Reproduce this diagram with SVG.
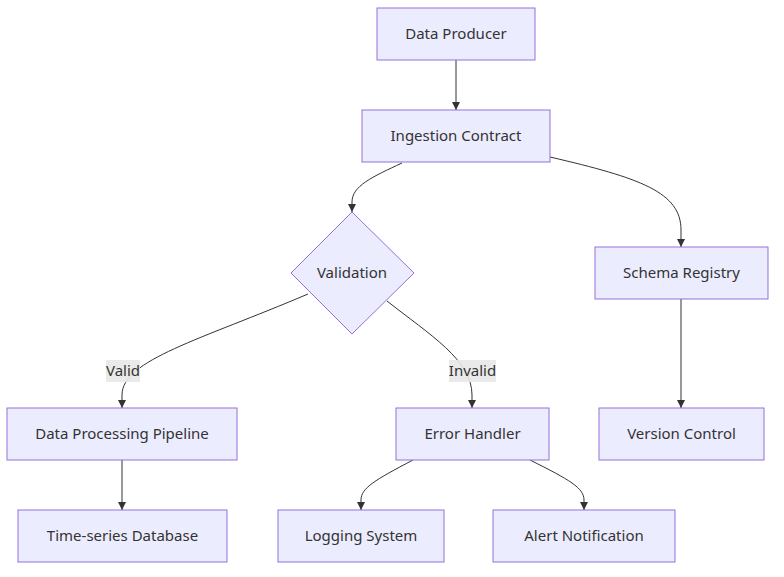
<svg xmlns="http://www.w3.org/2000/svg" width="784" height="577" viewBox="0 0 784 577">
<style>
.node rect, .node polygon { fill: #ECECFF; stroke: #9370DB; stroke-width: 1px; }
.node text, .lbl text { font-family: "Noto Sans", "Liberation Sans", sans-serif; font-size: 15px; fill: #333; text-anchor: middle; dominant-baseline: central; }
.edge { fill: none; stroke: #333; stroke-width: 1px; marker-end: url(#arrow); }
.lbl rect { fill: #e8e8e8; opacity: 0.9; }
</style>
<defs>
<marker id="arrow" viewBox="0 0 10 10" refX="10" refY="5" markerWidth="8" markerHeight="8" markerUnits="userSpaceOnUse" orient="auto">
<path d="M0,0 L10,5 L0,10 z" fill="#333"/>
</marker>
</defs>
<rect width="784" height="577" fill="#fff"/>
<g id="connectors">
<path class="edge" d="M456,60 L456,110"/>
<path class="edge" d="M402,163 C372,177 352,186 352,202 L352,212"/>
<path class="edge" d="M550,157 C640,178 681,192 681,230 L681,247"/>
<path class="edge" d="M308,294 C200,340 122,360 122,395 L122,408"/>
<path class="edge" d="M387,301 C430,335 472,360 472,395 L472,408"/>
<path class="edge" d="M681,299 L681,408"/>
<path class="edge" d="M122,460 L122,510"/>
<path class="edge" d="M413,460 C375,480 361,488 361,500 L361,510"/>
<path class="edge" d="M530,460 C570,480 584,488 584,500 L584,510"/>
</g>
<g id="label-valid" class="lbl"><rect x="106" y="360" width="34" height="22"/><text x="123" y="370">Valid</text></g>
<g id="label-invalid" class="lbl"><rect x="449" y="360" width="47" height="22"/><text x="472.5" y="370">Invalid</text></g>
<g id="n-producer" class="node"><rect x="377" y="8" width="158" height="52"/><text x="456" y="33">Data Producer</text></g>
<g id="n-ingestion" class="node"><rect x="362" y="110" width="188" height="52"/><text x="456" y="135">Ingestion Contract</text></g>
<g id="n-validation" class="node"><polygon points="352,212 414,273 352,334 291,273"/><text x="352" y="272">Validation</text></g>
<g id="n-schema" class="node"><rect x="595" y="247" width="173" height="52"/><text x="681.5" y="272">Schema Registry</text></g>
<g id="n-pipeline" class="node"><rect x="7" y="408" width="230" height="52"/><text x="122" y="433">Data Processing Pipeline</text></g>
<g id="n-error" class="node"><rect x="396" y="408" width="153" height="52"/><text x="472.5" y="433">Error Handler</text></g>
<g id="n-version" class="node"><rect x="599" y="408" width="165" height="52"/><text x="681.5" y="433">Version Control</text></g>
<g id="n-tsdb" class="node"><rect x="18" y="510" width="209" height="52"/><text x="122.5" y="535">Time-series Database</text></g>
<g id="n-logging" class="node"><rect x="278" y="510" width="166" height="52"/><text x="361" y="535">Logging System</text></g>
<g id="n-alert" class="node"><rect x="493" y="510" width="182" height="52"/><text x="584" y="535">Alert Notification</text></g>
</svg>
